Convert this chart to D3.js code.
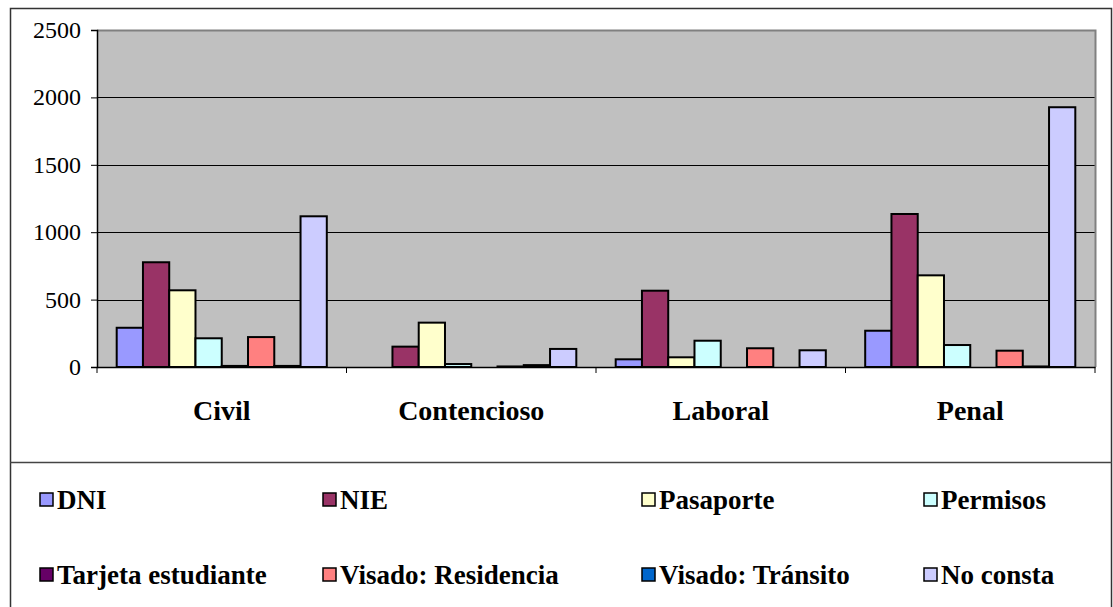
<!DOCTYPE html>
<html>
<head>
<meta charset="utf-8">
<script src="https://cdn.jsdelivr.net/npm/d3@7"></script>
</head>
<body style="margin:0">
<svg width="1113" height="607"></svg>
<script>
// categories and series
const categories = ["Civil", "Contencioso", "Laboral", "Penal"];
const seriesNames = ["DNI", "NIE", "Pasaporte", "Permisos", "Tarjeta estudiante",
  "Visado: Residencia", "Visado: Tr\u00e1nsito", "No consta"];
const seriesColors = ["#9999FF", "#993366", "#FFFFCC", "#CCFFFF", "#660066",
  "#FF8080", "#0066CC", "#CCCCFF"];
// values per series, in category order
const dni = [291, 0, 57, 269];
const nie = [777, 151, 566, 1135];
const pasaporte = [569, 329, 72, 680];
const permisos = [213, 22, 195, 163];
const tarjeta = [8, 0, 0, 0];
const visadoResidencia = [222, 4, 139, 121];
const visadoTransito = [8, 14, 0, 4];
const noConsta = [1118, 134, 124, 1927];
const yTicks = [0, 500, 1000, 1500, 2000, 2500];

const allSeries = [dni, nie, pasaporte, permisos, tarjeta, visadoResidencia, visadoTransito, noConsta];

const svg = d3.select("svg");
const plot = { left: 97, top: 30, right: 1095, bottom: 367 };

// outer frame
svg.append("rect")
  .attr("x", 10.5).attr("y", 8.5)
  .attr("width", 1101).attr("height", 610)
  .attr("fill", "#fff").attr("stroke", "#333").attr("stroke-width", 1.5);
svg.append("line")
  .attr("x1", 10).attr("x2", 1112).attr("y1", 462.5).attr("y2", 462.5)
  .attr("stroke", "#444").attr("stroke-width", 1.5);

const x = d3.scaleBand().domain(categories).range([plot.left, plot.right]).padding(0);
const xInner = d3.scaleBand().domain(d3.range(seriesNames.length))
  .range([0, x.bandwidth()]).paddingInner(0).paddingOuter(0.75);
const y = d3.scaleLinear().domain([0, 2500]).range([plot.bottom, plot.top]);

// plot background
svg.append("rect")
  .attr("x", plot.left).attr("y", plot.top)
  .attr("width", plot.right - plot.left).attr("height", plot.bottom - plot.top)
  .attr("fill", "#C0C0C0");

// gridlines
svg.append("g").selectAll("line")
  .data(yTicks.slice(1, -1))
  .join("line")
  .attr("x1", plot.left).attr("x2", plot.right)
  .attr("y1", d => Math.round(y(d)) + 0.5).attr("y2", d => Math.round(y(d)) + 0.5)
  .attr("stroke", "#000").attr("stroke-width", 1);

// plot border top/right
svg.append("path")
  .attr("d", `M${plot.left},${plot.top + 0.5}H${plot.right + 0.5}V${plot.bottom}`)
  .attr("fill", "none").attr("stroke", "#808080").attr("stroke-width", 2);

// bars
const barData = [];
categories.forEach((c, ci) => {
  allSeries.forEach((s, si) => {
    if (s[ci] > 0) barData.push({ cat: c, si: si, value: s[ci] });
  });
});
svg.append("g").selectAll("rect")
  .data(barData)
  .join("rect")
  .attr("x", d => x(d.cat) + xInner(d.si))
  .attr("y", d => y(d.value))
  .attr("width", xInner.bandwidth())
  .attr("height", d => y(0) - y(d.value))
  .attr("fill", d => seriesColors[d.si])
  .attr("stroke", "#000").attr("stroke-width", 2);

// y axis: lines from d3, labels drawn as plain text
const yAxis = d3.axisLeft(y).tickValues(yTicks).tickSize(6).tickFormat("");
const yg = svg.append("g").attr("transform", `translate(${plot.left},0)`).call(yAxis);
yg.select(".domain").attr("stroke", "#000").attr("stroke-width", 1.5);
svg.append("g").selectAll("text")
  .data(yTicks)
  .join("text")
  .attr("x", 81).attr("y", d => y(d) + 8)
  .attr("text-anchor", "end")
  .style("font", "24px 'Times New Roman', 'Liberation Serif', serif")
  .text(d => d3.format("d")(d));

// x axis
const xAxis = d3.axisBottom(x).tickSize(0).tickFormat("");
const xg = svg.append("g").attr("transform", `translate(0,${plot.bottom})`).call(xAxis);
xg.select(".domain").attr("stroke", "#000").attr("stroke-width", 1.5);
// category separator ticks
svg.append("g").selectAll("line")
  .data(categories.map(c => x(c)).concat([x.range()[1]]))
  .join("line")
  .attr("x1", d => d).attr("x2", d => d)
  .attr("y1", plot.bottom).attr("y2", plot.bottom + 6)
  .attr("stroke", "#000");
svg.append("g").selectAll("text")
  .data(categories)
  .join("text")
  .attr("x", d => x(d) + x.bandwidth() / 2)
  .attr("y", 420)
  .attr("text-anchor", "middle")
  .style("font", "bold 28px 'Times New Roman', 'Liberation Serif', serif")
  .text(d => d);

// legend
const legendCols = [40, 323, 642, 924];
const legendRows = [500, 575];
const legend = svg.append("g").selectAll("g")
  .data(seriesNames)
  .join("g")
  .attr("transform", (d, i) => `translate(${legendCols[i % 4]},${legendRows[Math.floor(i / 4)]})`);
legend.append("rect")
  .attr("x", 0).attr("y", -7).attr("width", 13).attr("height", 13)
  .attr("fill", (d, i) => seriesColors[i])
  .attr("stroke", "#000").attr("stroke-width", 1.5);
legend.append("text")
  .attr("x", 17).attr("y", 9)
  .style("font", "bold 27px 'Times New Roman', 'Liberation Serif', serif")
  .text(d => d);
</script>
</body>
</html>
